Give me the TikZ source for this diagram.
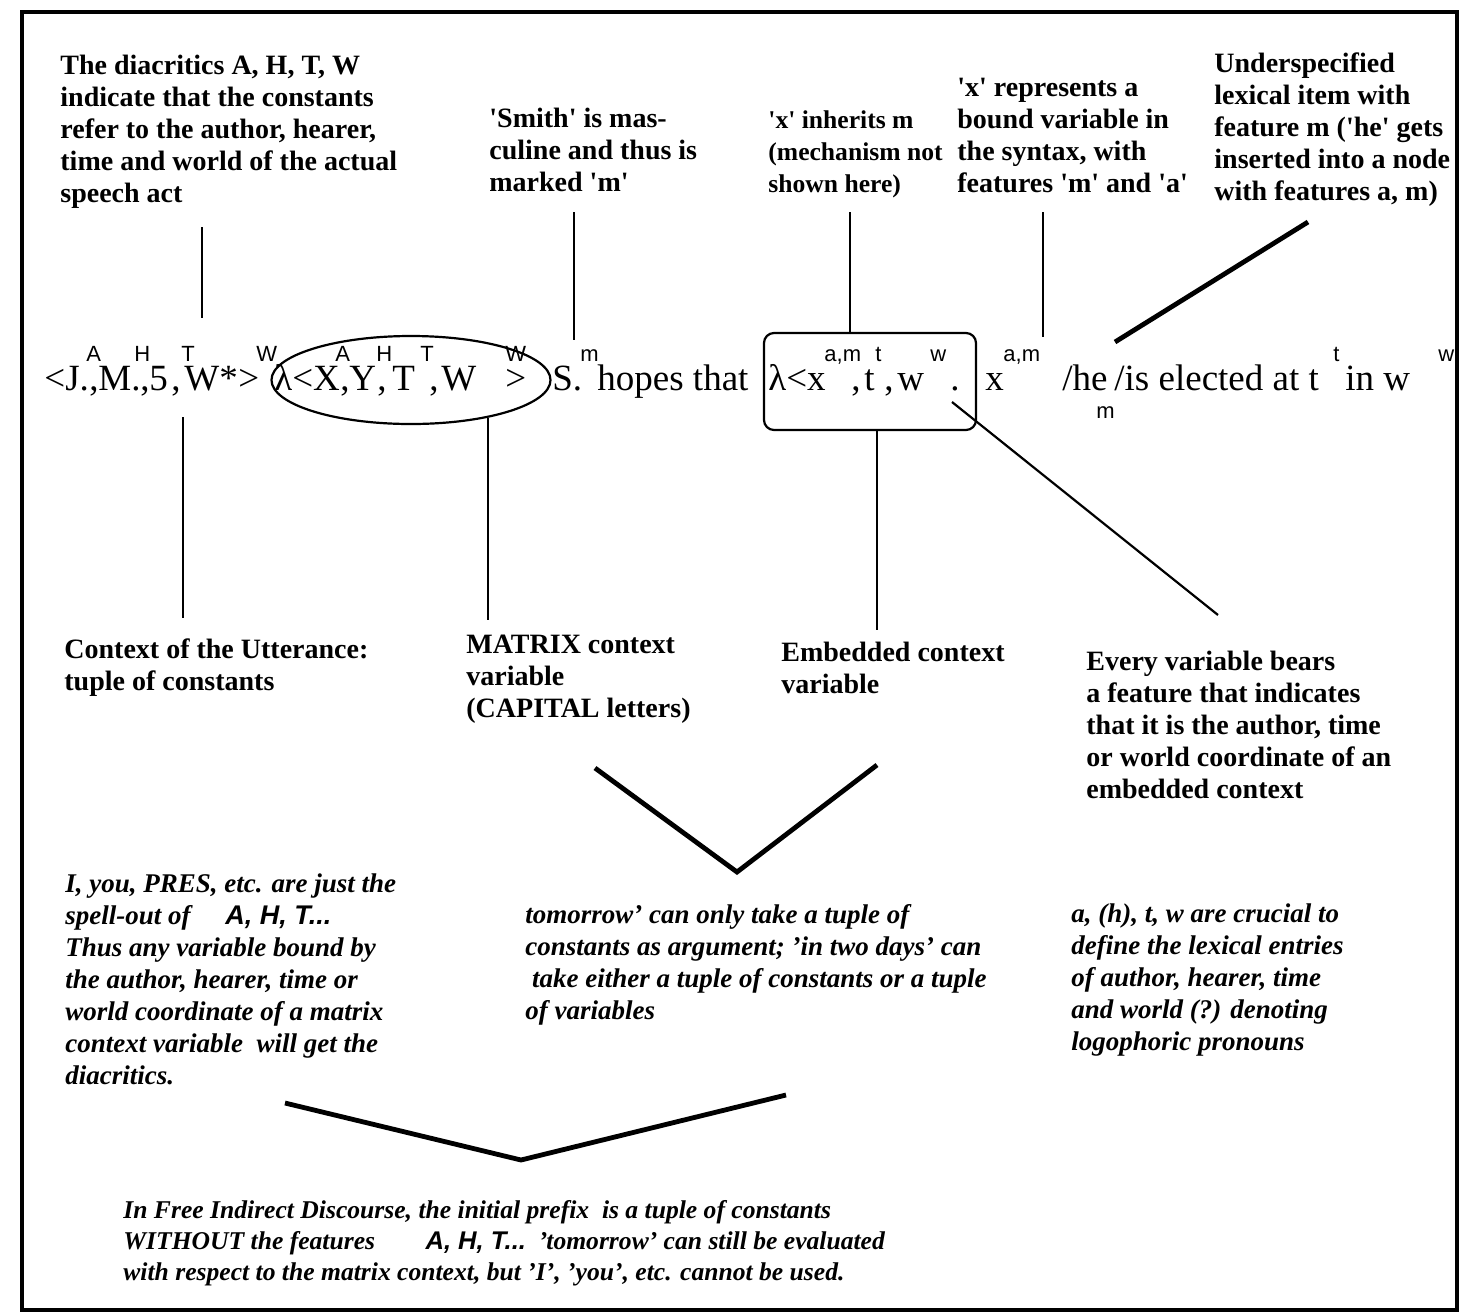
\documentclass[tikz,border=0pt]{standalone}
\usepackage{fontspec}
\setmainfont{Liberation Serif}
\setsansfont{Liberation Sans}
\usetikzlibrary{positioning,shapes.geometric}

\newcommand{\qt}[1]{\textquotesingle#1\textquotesingle}

\begin{document}
\begin{tikzpicture}[x=0.5pt,y=-0.5pt,
    note/.style={align=left, anchor=north west, inner sep=0pt, font=\fontsize{14}{16}\selectfont\bfseries},
    remark/.style={align=left, anchor=north west, inner sep=0pt, font=\fontsize{13.5}{16}\selectfont\bfseries\itshape},
    tok/.style={anchor=base west, inner sep=0pt, font=\fontsize{18.5}{20}\selectfont},
    feat/.style={anchor=base west, inner sep=0pt, font=\fontsize{11}{12}\selectfont\sffamily},
    link/.style={line width=1.1pt},
    bar/.style={line width=2.4pt}]

    \useasboundingbox (0,0) rectangle (1467,1313);
    \draw [line width=2pt] (22,12) rectangle (1457,1310);

    % notes above the formula
    \node (diacr) [note] at (60,55) {The diacritics A, H, T, W\\indicate that the constants\\refer to the author, hearer,\\time and world of the actual\\speech act};
    \node (smith) [note] at (489,108) {\qt{Smith} is mas-\\culine and thus is\\marked \qt{m}};
    \node (inherit) [note, font=\fontsize{12.8}{16}\selectfont\bfseries] at (768,110) {\qt{x} inherits m\\(mechanism not\\shown here)};
    \node (bound) [note] at (957,78) {\qt{x} represents a\\bound variable in\\the syntax, with\\features \qt{m} and \qt{a}};
    \node (under) [note] at (1214,52) {Underspecified\\lexical item with\\feature m (\qt{he} gets\\inserted into a node\\with features a, m)};

    % the formula, token by token
    \node (matrix) [ellipse, draw, line width=1.1pt, minimum width=139.5pt, minimum height=44pt] at (411,380) {};
    \node (emb) [draw, rounded corners=5pt, line width=1.1pt, minimum width=106pt, minimum height=48.5pt] at (870,381.5) {};
    \foreach \x/\t [count=\i] in {44/{<J.}, 89/{,}, 98/{M.}, 140/{,}, 149/5, 171/{,}, 184/{W*}, 238/{>},
        274/{λ<X}, 340/{,}, 349/Y, 377/{,}, 392/T, 429/{,}, 441/W, 505/{>},
        552/{S.}, 597/{hopes that},
        768/{λ<x}, 851/{,}, 864/t, 884/{,}, 897/w, 950/{.},
        985/x, 1062/{/he}, 1114/{/is elected at t}, 1345/{in w}}
        \node (tok\i) [tok] at (\x,390) {\t};
    \foreach \x/\t [count=\i] in {86/A, 134/H, 181/T, 256/W, 335/A, 376/H, 420/T, 505/W,
        580/m, 824/{a,m}, 875/t, 930/w, 1003/{a,m}, 1333/t, 1438/w}
        \node (ft\i) [feat] at (\x,361) {\t};
    \node (sub) [feat] at (1096,418) {m};

    % labels below the formula
    \node (uttlab) [note] at (64,638) {Context of the Utterance:\\tuple of constants};
    \node (matlab) [note] at (466,635) {MATRIX context\\variable\\(CAPITAL letters)};
    \node (emblab) [note] at (781,642) {Embedded context\\variable};
    \node (varlab) [note] at (1086,651) {Every variable bears\\a feature that indicates\\that it is the author, time\\or world coordinate of an\\embedded context};

    % remarks
    \node (spell) [remark] at (65,873) {I, you, PRES, etc. are just the\\ spell-out of \hspace{14pt}{\sffamily A, H, T...}\\Thus any variable bound by\\the author, hearer, time or\\world coordinate of a matrix\\context variable\ \ will get the\\diacritics.};
    \node (tomor) [remark] at (525,904) {tomorrow' can only take a tuple of\\constants as argument; 'in two days' can\\ \ take either a tuple of constants or a tuple\\of variables};
    \node (crucial) [remark] at (1071,903) {a, (h), t, w are crucial to\\define the lexical entries\\of author, hearer, time\\and world (?) denoting\\logophoric pronouns};
    \node (fid) [remark, font=\fontsize{12.8}{15.5}\selectfont\bfseries\itshape] at (123,1200) {In Free Indirect Discourse, the initial prefix\ \ is a tuple of constants\\WITHOUT the features \hspace{22pt}{\sffamily A, H, T...}\ \ 'tomorrow' can still be evaluated\\with respect to the matrix context, but 'I', 'you', etc. cannot be used.};

    % connectors
    \coordinate (c1) at (202,318);
    \coordinate (c2) at (574,340);
    \coordinate (c3) at (850,212);
    \coordinate (c4) at (1043,337);
    \coordinate (c5) at (1115,342);
    \draw [link] (c1 |- 0,227) -- (c1);
    \draw [link] (c2 |- 0,212) -- (c2);
    \draw [link] (c3) -- (c3 |- emb.north);
    \draw [link] (c4 |- 0,212) -- (c4);
    \draw [bar] (1308,222) -- (c5);

    \coordinate (c6) at (183,417);
    \draw [link] (c6) -- (c6 |- 0,618);
    \draw [link] (matrix.-26) -- (matrix.-26 |- 0,620);
    \draw [link] ([xshift=3.5pt]emb.south) -- ([xshift=3.5pt]emb.south |- 0,630);
    \coordinate (c9) at (952,402);
    \draw [link] (c9) -- (1218,615);

    \draw [bar] (595,768) -- (737,872) -- (877,765);
    \draw [bar] (285,1103) -- (521,1160) -- (786,1095);
\end{tikzpicture}
\end{document}
